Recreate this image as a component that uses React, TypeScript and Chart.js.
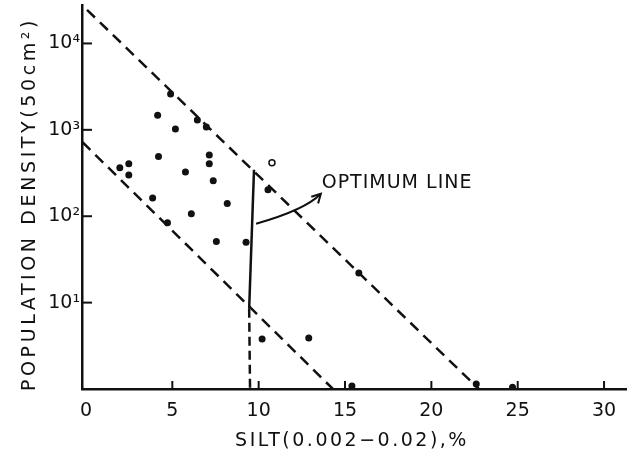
import React, { useEffect, useRef } from "react";
import { Chart, registerables } from "chart.js";

Chart.register(...registerables);

// ---- data ----
const siltPct = [4.9, 4.15, 5.18, 6.45, 6.97, 4.2, 7.14, 7.14, 1.96, 2.48, 2.48, 5.76, 7.37, 3.86, 8.18, 6.1, 10.54, 4.72, 7.55, 9.27, 15.8, 10.2, 12.9, 15.4, 22.6, 24.7];
const density = [2600, 1480, 1020, 1300, 1080, 490, 513, 405, 363, 405, 300, 326, 257, 163, 140, 107, 203, 84, 51, 50, 22, 3.8, 3.9, 1.08, 1.14, 1.05];
const hollowSilt = [10.77];
const hollowDensity = [415];

const upperX = [0.06, 22.75];
const upperY = [24500, 1];
const lowerX = [-0.2, 14.3];
const lowerY = [720, 1];
const optSolidX = [9.73, 9.45];
const optSolidY = [345, 8.5];
const optDashX = [9.45, 9.5];
const optDashY = [8.5, 1];

const arrowX = [9.85, 12.2, 13.6];
const arrowY = [82, 120, 182];
const labelX = [13.65];
const labelY = [240];
const labelText = "OPTIMUM LINE";

const xTicks = [0, 5, 10, 15, 20, 25, 30];
const yTicks = [10, 100, 1000, 10000];
const yTickLabels = ["10¹", "10²", "10³", "10⁴"];
const xTitle = "SILT(0.002−0.02),%";
const yTitle = "POPULATION DENSITY(50cm²)";

const FONT = '"DejaVu Sans", sans-serif';
const INK = "#111";

const pts = (xs: number[], ys: number[]) => xs.map((x, i) => ({ x, y: ys[i] }));

const decorPlugin = {
  id: "decor",
  afterDatasetsDraw(chart: any) {
    const { ctx, chartArea, scales } = chart;
    const xs = scales.x;
    const ys = scales.y;
    ctx.save();
    ctx.strokeStyle = INK;
    ctx.fillStyle = INK;
    ctx.lineCap = "butt";
    // inward ticks
    ctx.lineWidth = 2;
    yTicks.forEach((v) => {
      const py = ys.getPixelForValue(v);
      ctx.beginPath();
      ctx.moveTo(chartArea.left, py);
      ctx.lineTo(chartArea.left + 10, py);
      ctx.stroke();
    });
    xTicks.forEach((v) => {
      if (v === 0) return;
      const px = xs.getPixelForValue(v);
      ctx.beginPath();
      ctx.moveTo(px, chartArea.bottom);
      ctx.lineTo(px, chartArea.bottom - 8);
      ctx.stroke();
    });
    // arrow
    const P = arrowX.map((x, i) => ({ x: xs.getPixelForValue(x), y: ys.getPixelForValue(arrowY[i]) }));
    const c = { x: 2 * P[1].x - (P[0].x + P[2].x) / 2, y: 2 * P[1].y - (P[0].y + P[2].y) / 2 };
    ctx.lineWidth = 2;
    ctx.beginPath();
    ctx.moveTo(P[0].x, P[0].y);
    ctx.quadraticCurveTo(c.x, c.y, P[2].x, P[2].y);
    ctx.stroke();
    const ang = Math.atan2(P[2].y - c.y, P[2].x - c.x);
    const hl = 10;
    ctx.beginPath();
    ctx.moveTo(P[2].x - hl * Math.cos(ang - 0.5), P[2].y - hl * Math.sin(ang - 0.5));
    ctx.lineTo(P[2].x, P[2].y);
    ctx.lineTo(P[2].x - hl * Math.cos(ang + 0.5), P[2].y - hl * Math.sin(ang + 0.5));
    ctx.stroke();
    // label
    ctx.font = `19px ${FONT}`;
    (ctx as any).letterSpacing = "1px";
    ctx.textAlign = "left";
    ctx.textBaseline = "middle";
    ctx.fillText(labelText, xs.getPixelForValue(labelX[0]), ys.getPixelForValue(labelY[0]));
    ctx.restore();
  },
  afterDraw(chart: any) {
    const { ctx } = chart;
    ctx.save();
    ctx.fillStyle = INK;
    ctx.font = `19px ${FONT}`;
    ctx.textAlign = "center";
    ctx.textBaseline = "middle";
    (ctx as any).letterSpacing = "2.5px";
    ctx.fillText(xTitle, 352, 441);
    ctx.translate(30, 204);
    ctx.rotate(-Math.PI / 2);
    (ctx as any).letterSpacing = "3.6px";
    ctx.fillText(yTitle, 0, 0);
    ctx.restore();
  },
};

export default function App() {
  const ref = useRef<HTMLCanvasElement | null>(null);
  useEffect(() => {
    document.body.style.margin = "0";
    const canvas = ref.current;
    if (!canvas) return;
    const lineStyle = (dash: number[]) => ({
      showLine: true,
      pointRadius: 0,
      borderColor: INK,
      borderWidth: 2.5,
      borderDash: dash,
      fill: false,
    });
    const chart = new Chart(canvas, {
      type: "scatter",
      data: {
        datasets: [
          { data: pts(upperX, upperY), ...lineStyle([11, 7]) },
          { data: pts(lowerX, lowerY), ...lineStyle([11, 7]) },
          { data: pts(optSolidX, optSolidY), ...lineStyle([]) },
          { data: pts(optDashX, optDashY), ...lineStyle([9, 5]) },
          {
            data: pts(siltPct, density),
            pointRadius: 3.5,
            pointBackgroundColor: INK,
            pointBorderWidth: 0,
            showLine: false,
          },
          {
            data: pts(hollowSilt, hollowDensity),
            pointRadius: 3,
            pointBackgroundColor: "#fff",
            pointBorderColor: INK,
            pointBorderWidth: 1.5,
            showLine: false,
          },
        ] as any,
      },
      options: {
        animation: false,
        responsive: false,
        devicePixelRatio: 1,
        events: [],
        layout: { padding: { top: 4, right: 2, left: 0, bottom: 0 } },
        plugins: { legend: { display: false }, tooltip: { enabled: false }, title: { display: false } },
        scales: {
          x: {
            type: "linear",
            min: -0.23,
            max: 31.3,
            grid: { display: false, drawTicks: false },
            border: { display: true, color: INK, width: 2.5 },
            ticks: {
              includeBounds: false,
              padding: 11,
              color: INK,
              font: { family: FONT, size: 19 },
              maxRotation: 0,
              callback: (v: any) => String(v),
            },
            afterBuildTicks: (s: any) => {
              s.ticks = xTicks.map((v) => ({ value: v }));
            },
            afterFit: (s: any) => {
              s.height = 69;
              s.paddingLeft = 0;
              s.paddingRight = 0;
            },
          },
          y: {
            type: "logarithmic",
            min: 1,
            max: 27500,
            grid: { display: false, drawTicks: false },
            border: { display: true, color: INK, width: 2.5 },
            ticks: {
              padding: 2,
              color: INK,
              font: { family: FONT, size: 19 },
              callback: (v: any) => {
                const i = yTicks.indexOf(Number(v));
                return i >= 0 ? yTickLabels[i] : "";
              },
            },
            afterBuildTicks: (s: any) => {
              s.ticks = yTicks.map((v) => ({ value: v }));
            },
            afterFit: (s: any) => {
              s.width = 82;
              s.paddingTop = 0;
              s.paddingBottom = 0;
            },
          },
        },
      } as any,
      plugins: [decorPlugin],
    });
    return () => chart.destroy();
  }, []);
  return (
    <div style={{ width: 632, height: 458, background: "#fff" }}>
      <canvas ref={ref} width={632} height={458} style={{ display: "block" }} />
    </div>
  );
}
